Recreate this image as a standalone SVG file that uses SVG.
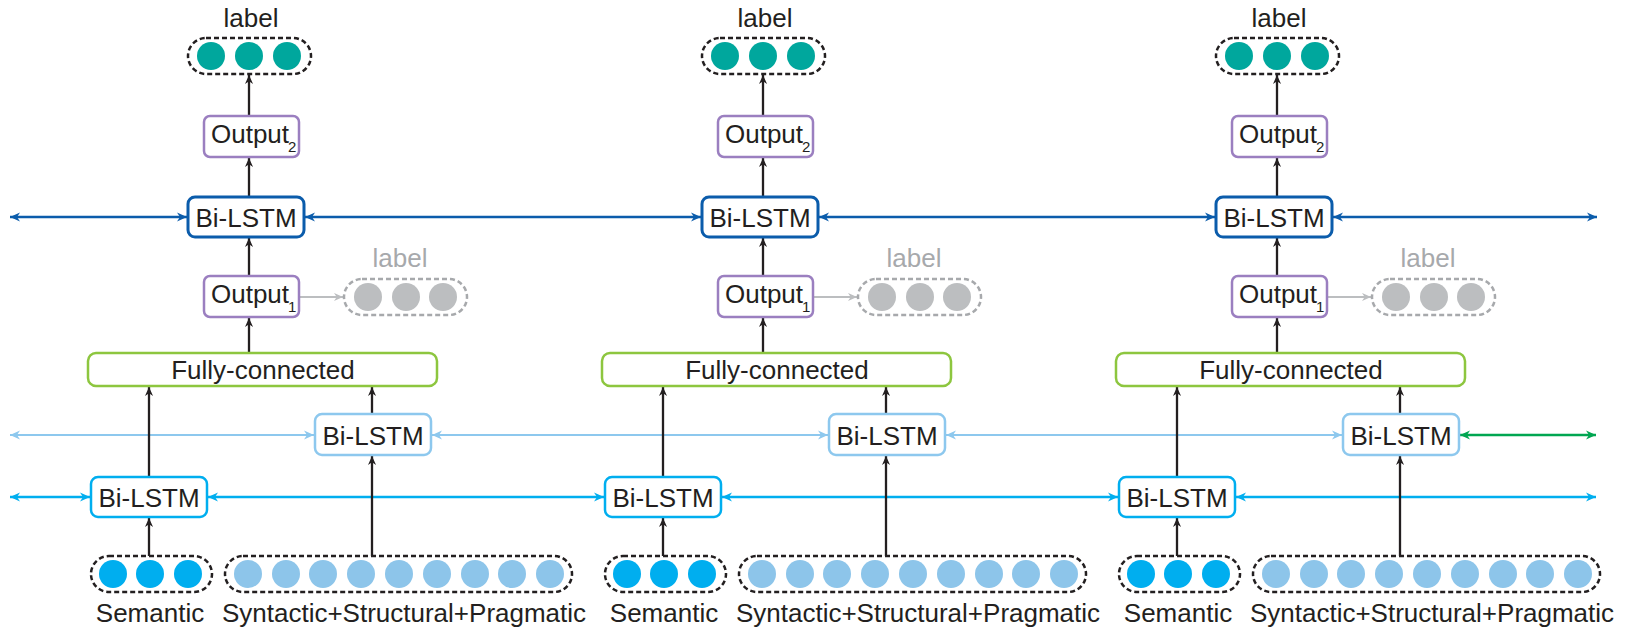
<svg xmlns="http://www.w3.org/2000/svg" width="1631" height="628" viewBox="0 0 1631 628">
  <style>
    text { font-family: "Liberation Sans", Arial, sans-serif; font-size: 26px; fill: #231f20; }
    .mid { text-anchor: middle; }
    .grey { fill: #a7a9ac; }
    .sub { font-size: 15px; }
    .box { fill: #ffffff; }
    .out { stroke: #9b7fc0; stroke-width: 2.5; }
    .lstm-top { stroke: #0b5cab; stroke-width: 3; }
    .lstm-mid { stroke: #8dc8ee; stroke-width: 2.5; }
    .lstm-low { stroke: #00aeef; stroke-width: 2.5; }
    .fc { stroke: #8dc63f; stroke-width: 2.5; }
    .pill { fill: none; stroke: #231f20; stroke-width: 2.5; stroke-dasharray: 5 3; }
    .pill-grey { fill: none; stroke: #a7a9ac; stroke-width: 2.5; stroke-dasharray: 5 3; }
    .teal { fill: #00a79d; }
    .gdot { fill: #bcbec0; }
    .sem { fill: #00aeef; }
    .syn { fill: #8dc5ea; }
    .up { stroke: #231f20; stroke-width: 2.3; fill: none; marker-end: url(#ah-black); }
    .h-top { stroke: #0b5cab; stroke-width: 2.5; fill: none; marker-start: url(#ah-dark); marker-end: url(#ah-dark); }
    .h-mid { stroke: #8dc8ee; stroke-width: 2; fill: none; marker-start: url(#ah-light); marker-end: url(#ah-light); }
    .h-low { stroke: #00aeef; stroke-width: 2.5; fill: none; marker-start: url(#ah-blue); marker-end: url(#ah-blue); }
    .h-green { stroke: #00a651; stroke-width: 2.5; fill: none; marker-start: url(#ah-green); marker-end: url(#ah-green); }
    .to-grey { stroke: #bcbec0; stroke-width: 2; fill: none; marker-end: url(#ah-grey); }
  </style>
  <defs>
    <marker id="ah-black" viewBox="0 0 10 10" refX="10" refY="5" markerUnits="userSpaceOnUse" markerWidth="9" markerHeight="9" orient="auto-start-reverse">
      <path d="M0,0.5 L10,5 L0,9.5 L3,5 z" fill="#231f20"/>
    </marker>
    <marker id="ah-dark" viewBox="0 0 10 10" refX="10" refY="5" markerUnits="userSpaceOnUse" markerWidth="10" markerHeight="10" orient="auto-start-reverse">
      <path d="M0,0.5 L10,5 L0,9.5 L3,5 z" fill="#0b5cab"/>
    </marker>
    <marker id="ah-light" viewBox="0 0 10 10" refX="10" refY="5" markerUnits="userSpaceOnUse" markerWidth="10" markerHeight="10" orient="auto-start-reverse">
      <path d="M0,0.5 L10,5 L0,9.5 L3,5 z" fill="#8dc8ee"/>
    </marker>
    <marker id="ah-blue" viewBox="0 0 10 10" refX="10" refY="5" markerUnits="userSpaceOnUse" markerWidth="10" markerHeight="10" orient="auto-start-reverse">
      <path d="M0,0.5 L10,5 L0,9.5 L3,5 z" fill="#00aeef"/>
    </marker>
    <marker id="ah-green" viewBox="0 0 10 10" refX="10" refY="5" markerUnits="userSpaceOnUse" markerWidth="10" markerHeight="10" orient="auto-start-reverse">
      <path d="M0,0.5 L10,5 L0,9.5 L3,5 z" fill="#00a651"/>
    </marker>
    <marker id="ah-grey" viewBox="0 0 10 10" refX="10" refY="5" markerUnits="userSpaceOnUse" markerWidth="9" markerHeight="9" orient="auto-start-reverse">
      <path d="M0,0.5 L10,5 L0,9.5 L3,5 z" fill="#bcbec0"/>
    </marker>

    <!-- final label vector above each time step -->
    <g id="step-top">
      <text class="mid" x="251" y="27">label</text>
      <rect class="pill" x="188" y="38" width="123" height="36" rx="18"/>
      <circle class="teal" cx="211" cy="56" r="14"/>
      <circle class="teal" cx="249" cy="56" r="14"/>
      <circle class="teal" cx="287" cy="56" r="14"/>
    </g>
  </defs>

  <!-- connectors -->
  <g id="connectors">
    <!-- top recurrent layer -->
    <line class="h-top" x1="10" y1="217" x2="187" y2="217"/>
    <line class="h-top" x1="305" y1="217" x2="701" y2="217"/>
    <line class="h-top" x1="819" y1="217" x2="1215" y2="217"/>
    <line class="h-top" x1="1333" y1="217" x2="1597" y2="217"/>
    <!-- middle recurrent layer -->
    <line class="h-mid" x1="10" y1="435" x2="314" y2="435"/>
    <line class="h-mid" x1="432" y1="435" x2="828" y2="435"/>
    <line class="h-mid" x1="946" y1="435" x2="1342" y2="435"/>
    <line class="h-green" x1="1460" y1="435" x2="1596" y2="435"/>
    <!-- lower recurrent layer -->
    <line class="h-low" x1="10" y1="497" x2="90" y2="497"/>
    <line class="h-low" x1="208" y1="497" x2="604" y2="497"/>
    <line class="h-low" x1="722" y1="497" x2="1118" y2="497"/>
    <line class="h-low" x1="1236" y1="497" x2="1596" y2="497"/>

    <!-- vertical data flow, step 1 -->
    <line class="up" x1="249" y1="116" x2="249" y2="75"/>
    <line class="up" x1="249" y1="197" x2="249" y2="158"/>
    <line class="up" x1="249" y1="276" x2="249" y2="238"/>
    <line class="up" x1="249" y1="353" x2="249" y2="318"/>
    <line class="up" x1="149" y1="477" x2="149" y2="387"/>
    <line class="up" x1="372" y1="414" x2="372" y2="387"/>
    <line class="up" x1="149" y1="556" x2="149" y2="518"/>
    <line class="up" x1="372" y1="556" x2="372" y2="456"/>
    <line class="to-grey" x1="299" y1="297" x2="343" y2="297"/>
    <!-- step 2 -->
    <g transform="translate(514,0)">
      <line class="up" x1="249" y1="116" x2="249" y2="75"/>
      <line class="up" x1="249" y1="197" x2="249" y2="158"/>
      <line class="up" x1="249" y1="276" x2="249" y2="238"/>
      <line class="up" x1="249" y1="353" x2="249" y2="318"/>
      <line class="up" x1="149" y1="477" x2="149" y2="387"/>
      <line class="up" x1="372" y1="414" x2="372" y2="387"/>
      <line class="up" x1="149" y1="556" x2="149" y2="518"/>
      <line class="up" x1="372" y1="556" x2="372" y2="456"/>
      <line class="to-grey" x1="299" y1="297" x2="343" y2="297"/>
    </g>
    <!-- step 3 -->
    <g transform="translate(1028,0)">
      <line class="up" x1="249" y1="116" x2="249" y2="75"/>
      <line class="up" x1="249" y1="197" x2="249" y2="158"/>
      <line class="up" x1="249" y1="276" x2="249" y2="238"/>
      <line class="up" x1="249" y1="353" x2="249" y2="318"/>
      <line class="up" x1="149" y1="477" x2="149" y2="387"/>
      <line class="up" x1="372" y1="414" x2="372" y2="387"/>
      <line class="up" x1="149" y1="556" x2="149" y2="518"/>
      <line class="up" x1="372" y1="556" x2="372" y2="456"/>
      <line class="to-grey" x1="299" y1="297" x2="343" y2="297"/>
    </g>
  </g>

  <!-- step 1 nodes -->
  <g id="step1">
    <g id="label-1"><use href="#step-top"/></g>
    <g id="output2-1">
      <rect class="box out" x="204" y="116" width="95" height="41" rx="6"/>
      <text x="211" y="143">Output<tspan class="sub" dx="-1" dy="9">2</tspan></text>
    </g>
    <g id="bilstm-top-1">
      <rect class="box lstm-top" x="188" y="197" width="116" height="40" rx="7"/>
      <text class="mid" x="246" y="227">Bi-LSTM</text>
    </g>
    <g id="output1-1">
      <rect class="box out" x="204" y="276" width="95" height="41" rx="6"/>
      <text x="211" y="303">Output<tspan class="sub" dx="-1" dy="9">1</tspan></text>
    </g>
    <g id="aux-label-1">
      <text class="mid grey" x="400" y="267">label</text>
      <rect class="pill-grey" x="344" y="279" width="123" height="36" rx="18"/>
      <circle class="gdot" cx="368" cy="297" r="14"/>
      <circle class="gdot" cx="406" cy="297" r="14"/>
      <circle class="gdot" cx="443" cy="297" r="14"/>
    </g>
    <g id="fc-1">
      <rect class="box fc" x="88" y="353" width="349" height="33" rx="8"/>
      <text class="mid" x="263" y="379">Fully-connected</text>
    </g>
    <g id="bilstm-mid-1">
      <rect class="box lstm-mid" x="315" y="414" width="116" height="41" rx="7"/>
      <text class="mid" x="373" y="445">Bi-LSTM</text>
    </g>
    <g id="bilstm-low-1">
      <rect class="box lstm-low" x="91" y="477" width="116" height="40" rx="7"/>
      <text class="mid" x="149" y="507">Bi-LSTM</text>
    </g>
    <g id="semantic-1">
      <rect class="pill" x="91" y="556" width="121" height="36" rx="18"/>
      <circle class="sem" cx="113" cy="574" r="14"/>
      <circle class="sem" cx="150" cy="574" r="14"/>
      <circle class="sem" cx="188" cy="574" r="14"/>
      <text class="mid" x="150" y="622">Semantic</text>
    </g>
    <g id="features-1">
      <rect class="pill" x="225" y="556" width="347" height="36" rx="18"/>
      <circle class="syn" cx="248" cy="574" r="14"/>
      <circle class="syn" cx="286" cy="574" r="14"/>
      <circle class="syn" cx="323" cy="574" r="14"/>
      <circle class="syn" cx="361" cy="574" r="14"/>
      <circle class="syn" cx="399" cy="574" r="14"/>
      <circle class="syn" cx="437" cy="574" r="14"/>
      <circle class="syn" cx="475" cy="574" r="14"/>
      <circle class="syn" cx="512" cy="574" r="14"/>
      <circle class="syn" cx="550" cy="574" r="14"/>
      <text class="mid" x="404" y="622">Syntactic+Structural+Pragmatic</text>
    </g>
  </g>

  <!-- step 2 nodes -->
  <g id="step2" transform="translate(514,0)">
    <g id="label-2"><use href="#step-top"/></g>
    <g id="output2-2">
      <rect class="box out" x="204" y="116" width="95" height="41" rx="6"/>
      <text x="211" y="143">Output<tspan class="sub" dx="-1" dy="9">2</tspan></text>
    </g>
    <g id="bilstm-top-2">
      <rect class="box lstm-top" x="188" y="197" width="116" height="40" rx="7"/>
      <text class="mid" x="246" y="227">Bi-LSTM</text>
    </g>
    <g id="output1-2">
      <rect class="box out" x="204" y="276" width="95" height="41" rx="6"/>
      <text x="211" y="303">Output<tspan class="sub" dx="-1" dy="9">1</tspan></text>
    </g>
    <g id="aux-label-2">
      <text class="mid grey" x="400" y="267">label</text>
      <rect class="pill-grey" x="344" y="279" width="123" height="36" rx="18"/>
      <circle class="gdot" cx="368" cy="297" r="14"/>
      <circle class="gdot" cx="406" cy="297" r="14"/>
      <circle class="gdot" cx="443" cy="297" r="14"/>
    </g>
    <g id="fc-2">
      <rect class="box fc" x="88" y="353" width="349" height="33" rx="8"/>
      <text class="mid" x="263" y="379">Fully-connected</text>
    </g>
    <g id="bilstm-mid-2">
      <rect class="box lstm-mid" x="315" y="414" width="116" height="41" rx="7"/>
      <text class="mid" x="373" y="445">Bi-LSTM</text>
    </g>
    <g id="bilstm-low-2">
      <rect class="box lstm-low" x="91" y="477" width="116" height="40" rx="7"/>
      <text class="mid" x="149" y="507">Bi-LSTM</text>
    </g>
    <g id="semantic-2">
      <rect class="pill" x="91" y="556" width="121" height="36" rx="18"/>
      <circle class="sem" cx="113" cy="574" r="14"/>
      <circle class="sem" cx="150" cy="574" r="14"/>
      <circle class="sem" cx="188" cy="574" r="14"/>
      <text class="mid" x="150" y="622">Semantic</text>
    </g>
    <g id="features-2">
      <rect class="pill" x="225" y="556" width="347" height="36" rx="18"/>
      <circle class="syn" cx="248" cy="574" r="14"/>
      <circle class="syn" cx="286" cy="574" r="14"/>
      <circle class="syn" cx="323" cy="574" r="14"/>
      <circle class="syn" cx="361" cy="574" r="14"/>
      <circle class="syn" cx="399" cy="574" r="14"/>
      <circle class="syn" cx="437" cy="574" r="14"/>
      <circle class="syn" cx="475" cy="574" r="14"/>
      <circle class="syn" cx="512" cy="574" r="14"/>
      <circle class="syn" cx="550" cy="574" r="14"/>
      <text class="mid" x="404" y="622">Syntactic+Structural+Pragmatic</text>
    </g>
  </g>

  <!-- step 3 nodes -->
  <g id="step3" transform="translate(1028,0)">
    <g id="label-3"><use href="#step-top"/></g>
    <g id="output2-3">
      <rect class="box out" x="204" y="116" width="95" height="41" rx="6"/>
      <text x="211" y="143">Output<tspan class="sub" dx="-1" dy="9">2</tspan></text>
    </g>
    <g id="bilstm-top-3">
      <rect class="box lstm-top" x="188" y="197" width="116" height="40" rx="7"/>
      <text class="mid" x="246" y="227">Bi-LSTM</text>
    </g>
    <g id="output1-3">
      <rect class="box out" x="204" y="276" width="95" height="41" rx="6"/>
      <text x="211" y="303">Output<tspan class="sub" dx="-1" dy="9">1</tspan></text>
    </g>
    <g id="aux-label-3">
      <text class="mid grey" x="400" y="267">label</text>
      <rect class="pill-grey" x="344" y="279" width="123" height="36" rx="18"/>
      <circle class="gdot" cx="368" cy="297" r="14"/>
      <circle class="gdot" cx="406" cy="297" r="14"/>
      <circle class="gdot" cx="443" cy="297" r="14"/>
    </g>
    <g id="fc-3">
      <rect class="box fc" x="88" y="353" width="349" height="33" rx="8"/>
      <text class="mid" x="263" y="379">Fully-connected</text>
    </g>
    <g id="bilstm-mid-3">
      <rect class="box lstm-mid" x="315" y="414" width="116" height="41" rx="7"/>
      <text class="mid" x="373" y="445">Bi-LSTM</text>
    </g>
    <g id="bilstm-low-3">
      <rect class="box lstm-low" x="91" y="477" width="116" height="40" rx="7"/>
      <text class="mid" x="149" y="507">Bi-LSTM</text>
    </g>
    <g id="semantic-3">
      <rect class="pill" x="91" y="556" width="121" height="36" rx="18"/>
      <circle class="sem" cx="113" cy="574" r="14"/>
      <circle class="sem" cx="150" cy="574" r="14"/>
      <circle class="sem" cx="188" cy="574" r="14"/>
      <text class="mid" x="150" y="622">Semantic</text>
    </g>
    <g id="features-3">
      <rect class="pill" x="225" y="556" width="347" height="36" rx="18"/>
      <circle class="syn" cx="248" cy="574" r="14"/>
      <circle class="syn" cx="286" cy="574" r="14"/>
      <circle class="syn" cx="323" cy="574" r="14"/>
      <circle class="syn" cx="361" cy="574" r="14"/>
      <circle class="syn" cx="399" cy="574" r="14"/>
      <circle class="syn" cx="437" cy="574" r="14"/>
      <circle class="syn" cx="475" cy="574" r="14"/>
      <circle class="syn" cx="512" cy="574" r="14"/>
      <circle class="syn" cx="550" cy="574" r="14"/>
      <text class="mid" x="404" y="622">Syntactic+Structural+Pragmatic</text>
    </g>
  </g>
</svg>
